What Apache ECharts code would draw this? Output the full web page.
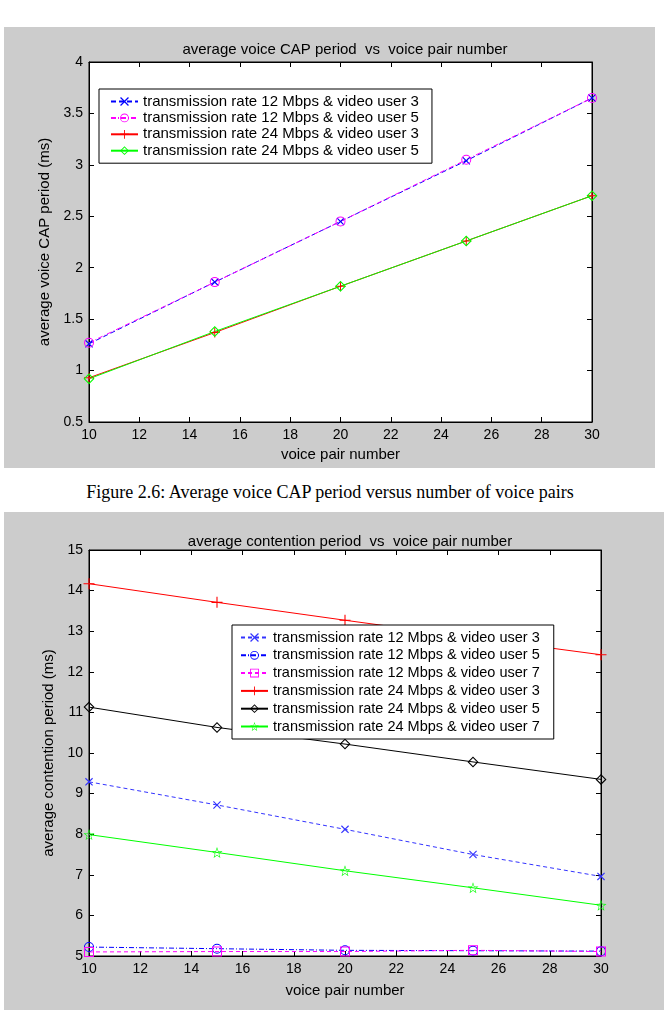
<!DOCTYPE html>
<html>
<head>
<meta charset="utf-8">
<script src="https://cdn.jsdelivr.net/npm/echarts@6/dist/echarts.min.js"></script>
<style>
  html, body { margin: 0; padding: 0; background: #fff; }
  body { width: 664px; height: 1018px; position: relative; overflow: hidden; }
  .fig { position: absolute; background: #cccccc; }
  #cap {
    position: absolute; left: 0; top: 482px; width: 660px; text-align: center;
    font-family: 'Liberation Serif', 'Times New Roman', serif; font-size: 18px; color: #000;
  }
</style>
</head>
<body>
<div id="chart1" class="fig" style="left:4px;top:27px;width:651px;height:441px"></div>
<div id="cap">Figure 2.6: Average voice CAP period versus number of voice pairs</div>
<div id="chart2" class="fig" style="left:4px;top:512px;width:660px;height:498px"></div>
<script>
// x values shared by both figures
const voicePairs = [10, 15, 20, 25, 30];

// figure 2.6 - average voice CAP period (ms)
const capTitle = 'average voice CAP period  vs  voice pair number';
const capYName = 'average voice CAP period (ms)';
const capNames = [
  'transmission rate 12 Mbps & video user 3',
  'transmission rate 12 Mbps & video user 5',
  'transmission rate 24 Mbps & video user 3',
  'transmission rate 24 Mbps & video user 5'
];
const cap12v3 = [1.26, 1.86, 2.45, 3.04, 3.65];
const cap12v5 = [1.27, 1.86, 2.45, 3.05, 3.65];
const cap24v3 = [0.93, 1.37, 1.82, 2.26, 2.70];
const cap24v5 = [0.92, 1.38, 1.82, 2.26, 2.70];

// second figure - average contention period (ms)
const conTitle = 'average contention period  vs  voice pair number';
const conYName = 'average contention period (ms)';
const conNames = [
  'transmission rate 12 Mbps & video user 3',
  'transmission rate 12 Mbps & video user 5',
  'transmission rate 12 Mbps & video user 7',
  'transmission rate 24 Mbps & video user 3',
  'transmission rate 24 Mbps & video user 5',
  'transmission rate 24 Mbps & video user 7'
];
const con12v3 = [9.29, 8.72, 8.12, 7.50, 6.96];
const con12v5 = [5.22, 5.18, 5.14, 5.13, 5.12];
const con12v7 = [5.10, 5.11, 5.11, 5.14, 5.11];
const con24v3 = [14.17, 13.71, 13.27, 12.84, 12.42];
const con24v5 = [11.13, 10.63, 10.22, 9.78, 9.35];
const con24v7 = [7.99, 7.55, 7.10, 6.68, 6.25];

const FONT = "'Liberation Sans', Arial, Helvetica, sans-serif";

// matlab style open markers
const SYM = {
  x: 'path://M0,1 L1,0 L5,4 L9,0 L10,1 L6,5 L10,9 L9,10 L5,6 L1,10 L0,9 L4,5 Z',
  plus: 'path://M4.5,0 H5.5 V4.5 H10 V5.5 H5.5 V10 H4.5 V5.5 H0 V4.5 H4.5 Z',
  circle: 'path://M0,5 A5,5 0 1 1 10,5 A5,5 0 1 1 0,5 Z M1,5 A4,4 0 1 0 9,5 A4,4 0 1 0 1,5 Z',
  diamond: 'path://M5,0 L10,5 L5,10 L0,5 Z M5,1.4 L1.4,5 L5,8.6 L8.6,5 Z',
  square: 'path://M0,0 H10 V10 H0 Z M1,1 V9 H9 V1 Z',
  star: 'path://M5,0 L6.18,3.38 L9.76,3.45 L6.9,5.62 L7.94,9.05 L5,7 L2.06,9.05 L3.1,5.62 L0.24,3.45 L3.82,3.38 Z ' +
        'M5,1.5 L4.17,3.87 L1.67,3.92 L3.67,5.43 L2.94,7.84 L5,6.4 L7.06,7.84 L6.33,5.43 L8.33,3.92 L5.83,3.87 Z'
};

function line(name, values, color, dash, symbol, size) {
  return {
    type: 'line',
    name: name,
    data: voicePairs.map((x, i) => [x, values[i]]),
    symbol: symbol,
    symbolSize: size,
    lineStyle: { color: color, width: 1, type: dash },
    itemStyle: { color: color, borderWidth: 0 },
    clip: false,
    animation: false,
    emphasis: { disabled: true }
  };
}

function axes(yMin, yMax, yStep, yName, yGap, xGap) {
  const label = { color: '#000', fontSize: 14, fontFamily: FONT, margin: 6 };
  const tick = { inside: true, length: 5, lineStyle: { color: '#000' } };
  const axisLine = { lineStyle: { color: '#000', width: 1 } };
  const nameStyle = { color: '#000', fontSize: 15, fontFamily: FONT };
  return {
    xAxis: [
      { type: 'value', min: 10, max: 30, interval: 2, position: 'bottom',
        axisLine, axisTick: tick, axisLabel: label, splitLine: { show: false },
        name: 'voice pair number', nameLocation: 'middle', nameGap: xGap, nameTextStyle: nameStyle },
      { type: 'value', min: 10, max: 30, interval: 2, position: 'top',
        axisLine, axisTick: tick, axisLabel: { show: false }, splitLine: { show: false } }
    ],
    yAxis: [
      { type: 'value', min: yMin, max: yMax, interval: yStep, position: 'left',
        axisLine, axisTick: tick, axisLabel: label, splitLine: { show: false },
        name: yName, nameLocation: 'middle', nameGap: yGap, nameTextStyle: nameStyle },
      { type: 'value', min: yMin, max: yMax, interval: yStep, position: 'right',
        axisLine, axisTick: tick, axisLabel: { show: false }, splitLine: { show: false } }
    ]
  };
}

function legend(left, top, gap, pad, size) {
  return {
    orient: 'vertical',
    left: left, top: top,
    itemWidth: 27, itemHeight: 11, itemGap: gap,
    padding: pad,
    backgroundColor: '#fff',
    borderColor: '#000', borderWidth: 1, borderRadius: 0,
    selectedMode: false,
    textStyle: { color: '#000', fontSize: size, fontFamily: FONT, lineHeight: 15 }
  };
}

// ---- figure 1
const chart1 = echarts.init(document.getElementById('chart1'));
chart1.setOption(Object.assign({
  animation: false,
  title: { text: capTitle, left: 336, top: 10, textAlign: 'center',
    textStyle: { color: '#000', fontSize: 15, fontWeight: 'normal', fontFamily: FONT } },
  grid: { left: 85, top: 35, width: 503, height: 360, show: true,
    backgroundColor: '#fff', borderColor: '#000', borderWidth: 1, outerBoundsMode: 'none' },
  legend: Object.assign(legend(95, 62, 1.4, [5, 13, 5, 11], 15), { data: capNames }),
  series: [
    line(capNames[0], cap12v3, '#0000ff', [5, 3], SYM.x, 8),
    line(capNames[1], cap12v5, '#ff00ff', [5, 2, 1, 2], SYM.circle, 10),
    line(capNames[2], cap24v3, '#ff0000', 'solid', SYM.plus, 10),
    line(capNames[3], cap24v5, '#00ff00', 'solid', SYM.diamond, 11)
  ]
}, axes(0.5, 4, 0.5, capYName, 34, 25)));

// ---- figure 2
const chart2 = echarts.init(document.getElementById('chart2'));
chart2.setOption(Object.assign({
  animation: false,
  title: { text: conTitle, left: 341, top: 17, textAlign: 'center',
    textStyle: { color: '#000', fontSize: 15, fontWeight: 'normal', fontFamily: FONT } },
  grid: { left: 85, top: 38, width: 512, height: 406, show: true,
    backgroundColor: '#fff', borderColor: '#000', borderWidth: 1, outerBoundsMode: 'none' },
  legend: Object.assign(legend(228, 113, 2.8, [5, 14, 5, 8], 14.5), { data: conNames }),
  series: [
    line(conNames[0], con12v3, '#3333ff', [4, 3], SYM.x, 8),
    line(conNames[1], con12v5, '#0000ff', [5, 2, 1, 2], SYM.circle, 10),
    line(conNames[2], con12v7, '#ff00ff', [4, 3], SYM.square, 10),
    line(conNames[3], con24v3, '#ff0000', 'solid', SYM.plus, 11),
    line(conNames[4], con24v5, '#000000', 'solid', SYM.diamond, 11),
    line(conNames[5], con24v7, '#00ff00', 'solid', SYM.star, 11)
  ]
}, axes(5, 15, 1, conYName, 26, 27)));
</script>
</body>
</html>
